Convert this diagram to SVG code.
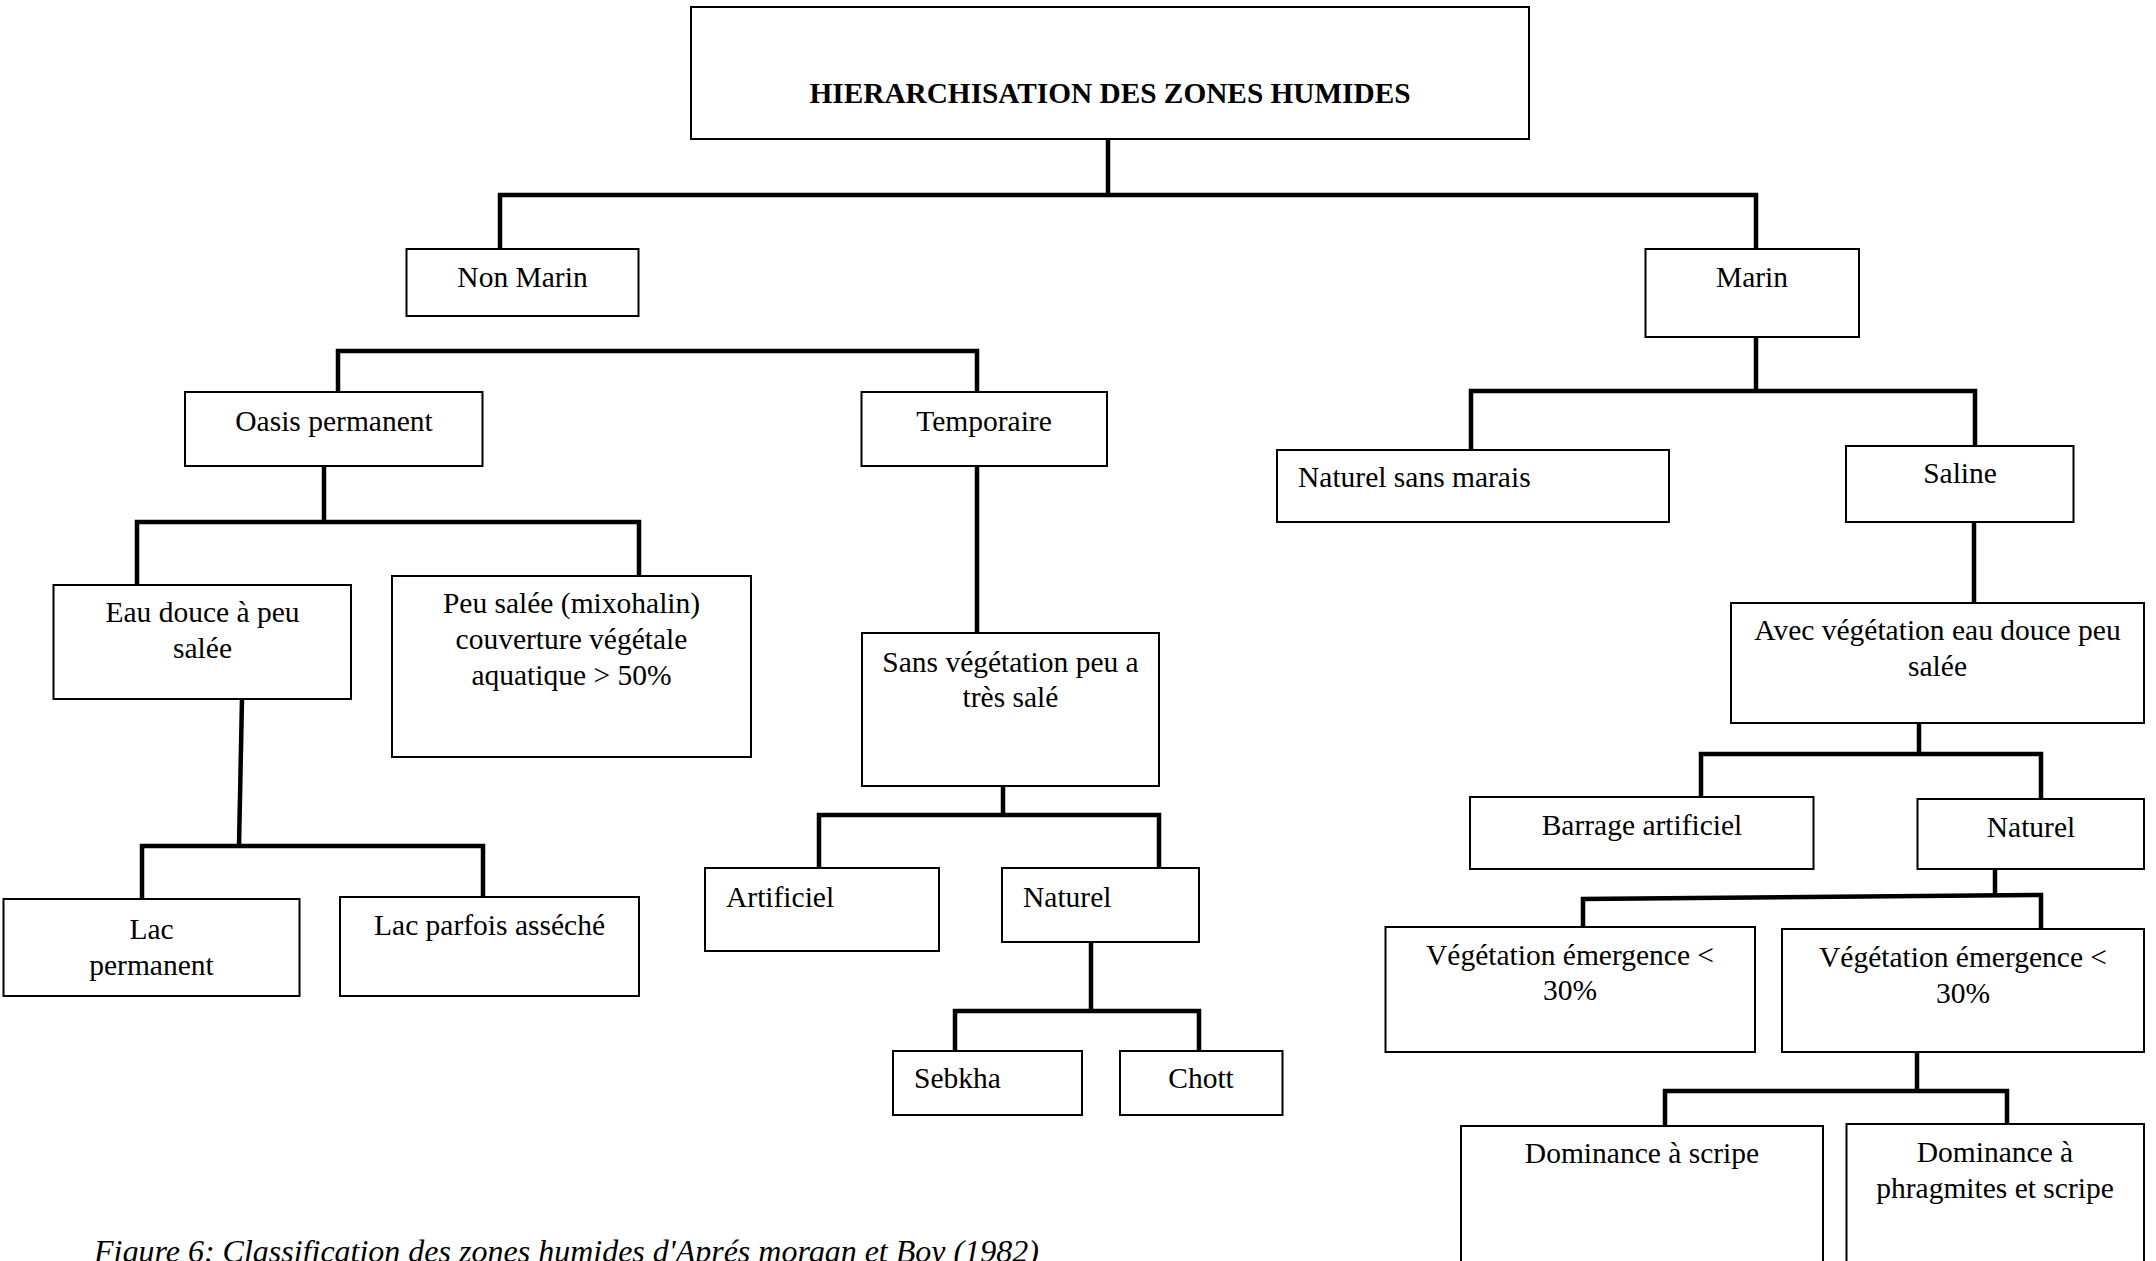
<svg xmlns="http://www.w3.org/2000/svg" width="2156" height="1261" viewBox="0 0 2156 1261">
<style>
.box{fill:#fff;stroke:#000;stroke-width:2}
.t{font-family:"Liberation Serif","Times New Roman",serif;font-size:29.5px;fill:#000}
.c{text-anchor:middle}
.b{font-weight:bold;font-size:29.3px}
.cap{font-style:italic;font-size:32px}
#connectors path{fill:none;stroke:#000;stroke-width:4.5;stroke-linejoin:miter}
</style>
<rect width="2156" height="1261" fill="#fff"/>
<g id="connectors">
<path d="M1108,139 V195"/>
<path d="M500,249 V195 H1756 V249"/>
<path d="M338,392 V351 H977 V392"/>
<path d="M324,466 V522"/>
<path d="M137,585 V522 H639 V576"/>
<path d="M242,699 L239,846"/>
<path d="M142,899 V846 H483 V897"/>
<path d="M977,466 V633"/>
<path d="M1003,786 V815"/>
<path d="M819,868 V815 H1159 V868"/>
<path d="M1091,942 V1011"/>
<path d="M955,1051 V1011 H1199 V1051"/>
<path d="M1756,337 V391"/>
<path d="M1471,450 V391 H1975 V446"/>
<path d="M1974,522 V603"/>
<path d="M1919,723 V754"/>
<path d="M1701,797 V754 H2041 V799"/>
<path d="M1995,869 V897"/>
<path d="M1583,927 V899 L2041,895 V929"/>
<path d="M1917,1052 V1091"/>
<path d="M1665,1126 V1091 H2007 V1124"/>
</g>
<g id="n-title"><rect class="box" x="691" y="7" width="838" height="132"/><text class="t c b" x="1110" y="103">HIERARCHISATION DES ZONES HUMIDES</text></g>
<g id="n-nonmarin"><rect class="box" x="406.5" y="249" width="232" height="67"/><text class="t c" x="522.5" y="287">Non Marin</text></g>
<g id="n-marin"><rect class="box" x="1645.5" y="249" width="213.5" height="88"/><text class="t c" x="1752" y="287">Marin</text></g>
<g id="n-oasis"><rect class="box" x="185" y="392" width="297.5" height="74"/><text class="t c" x="334" y="431">Oasis permanent</text></g>
<g id="n-temporaire"><rect class="box" x="861.5" y="392" width="245.5" height="74"/><text class="t c" x="984" y="431">Temporaire</text></g>
<g id="n-eaudouce"><rect class="box" x="53.5" y="585" width="297.5" height="114"/><text class="t c" x="202.5" y="622">Eau douce à peu</text><text class="t c" x="202.5" y="658">salée</text></g>
<g id="n-peusalee"><rect class="box" x="392" y="576" width="359" height="181"/><text class="t c" x="571.5" y="613">Peu salée (mixohalin)</text><text class="t c" x="571.5" y="649">couverture végétale</text><text class="t c" x="571.5" y="685">aquatique &gt; 50%</text></g>
<g id="n-sansveg"><rect class="box" x="862" y="633" width="297" height="153"/><text class="t c" x="1010.5" y="672">Sans végétation peu a</text><text class="t c" x="1010.5" y="707">très salé</text></g>
<g id="n-lacperm"><rect class="box" x="3.5" y="899" width="296" height="97"/><text class="t c" x="151.5" y="939">Lac</text><text class="t c" x="151.5" y="975">permanent</text></g>
<g id="n-lacparfois"><rect class="box" x="340" y="897" width="299" height="99"/><text class="t c" x="489.5" y="935">Lac parfois asséché</text></g>
<g id="n-artificiel"><rect class="box" x="705" y="868" width="234" height="83"/><text class="t" x="726" y="907">Artificiel</text></g>
<g id="n-naturel1"><rect class="box" x="1002" y="868" width="197" height="74"/><text class="t" x="1023" y="907">Naturel</text></g>
<g id="n-sebkha"><rect class="box" x="893" y="1051" width="189" height="64"/><text class="t" x="914" y="1088">Sebkha</text></g>
<g id="n-chott"><rect class="box" x="1120" y="1051" width="162.5" height="64"/><text class="t c" x="1201" y="1088">Chott</text></g>
<g id="n-natsansmarais"><rect class="box" x="1277" y="450" width="392" height="72"/><text class="t" x="1298" y="487">Naturel sans marais</text></g>
<g id="n-saline"><rect class="box" x="1846" y="446" width="227.5" height="76"/><text class="t c" x="1960" y="483">Saline</text></g>
<g id="n-avecveg"><rect class="box" x="1731" y="603" width="413" height="120"/><text class="t c" x="1937.5" y="640">Avec végétation eau douce peu</text><text class="t c" x="1937.5" y="676">salée</text></g>
<g id="n-barrage"><rect class="box" x="1470" y="797" width="343.5" height="72"/><text class="t c" x="1642" y="835">Barrage artificiel</text></g>
<g id="n-naturel2"><rect class="box" x="1917.5" y="799" width="226.5" height="70"/><text class="t c" x="2031" y="837">Naturel</text></g>
<g id="n-vegem1"><rect class="box" x="1385.5" y="927" width="369.5" height="125"/><text class="t c" x="1570" y="965">Végétation émergence &lt;</text><text class="t c" x="1570" y="1000">30%</text></g>
<g id="n-vegem2"><rect class="box" x="1782" y="929" width="362" height="123"/><text class="t c" x="1963" y="967">Végétation émergence &lt;</text><text class="t c" x="1963" y="1003">30%</text></g>
<g id="n-dom1"><rect class="box" x="1461" y="1126" width="362" height="150"/><text class="t c" x="1642" y="1163">Dominance à scripe</text></g>
<g id="n-dom2"><rect class="box" x="1846.5" y="1124" width="297.5" height="152"/><text class="t c" x="1995" y="1162">Dominance à</text><text class="t c" x="1995" y="1198">phragmites et scripe</text></g>
<text class="t cap" x="94" y="1262">Figure 6: Classification des zones humides d'Aprés morgan et Boy (1982)</text>
</svg>
